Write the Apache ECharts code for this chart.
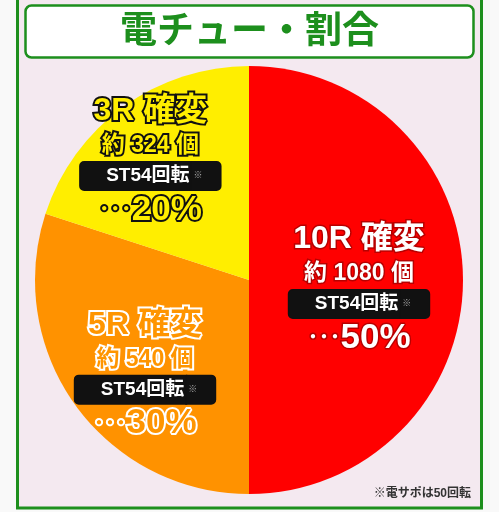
<!DOCTYPE html>
<html>
<head>
<meta charset="utf-8">
<script src="https://cdn.jsdelivr.net/npm/echarts@6/dist/echarts.min.js"></script>
<style>
    html, body { margin: 0; padding: 0; background: #f9f9f9; }
    #main { width: 499px; height: 512px; }
</style>
</head>
<body>
<div id="main"></div>
<script>
    // データ
    const categories = ['10R 確変', '5R 確変', '3R 確変'];
    const counts = ['約 1080 個', '約 540 個', '約 324 個'];
    const shares = [50, 30, 20];
    const stText = 'ST54回転';
    const titleText = '電チュー・割合';
    const footText = '※電サポは50回転';

    const FONT = '"Liberation Sans", "Noto Sans CJK JP", sans-serif';
    const green = '#1d8f1d';

    // スライスごとの色と文字の装飾
    const sliceStyle = [
        { color: '#ff0000', fill: '#ffffff', stroke: '#b80000', width: 3, offset: [0, 10] },
        { color: '#ff9200', fill: '#ff9500', stroke: '#ffffff', width: 4, offset: [-15, 31] },
        { color: '#ffee00', fill: '#ffee00', stroke: '#111111', width: 4, offset: [-34, -29] }
    ];

    function richFor(s) {
        const base = {
            fontFamily: FONT, fontWeight: 'bold', color: s.fill,
            textBorderColor: s.stroke, textBorderWidth: s.width
        };
        return {
            t: Object.assign({}, base, { fontSize: 32, lineHeight: 35 }),
            c: Object.assign({}, base, { fontSize: 23, lineHeight: 33 }),
            ba: {
                fontFamily: FONT, fontWeight: 'bold', fontSize: 19, color: '#fff',
                backgroundColor: '#111', borderColor: '#111', borderWidth: 1,
                height: 20, padding: [4, 2, 4, 26],
                borderRadius: [4, 0, 0, 4]
            },
            bb: {
                fontFamily: FONT, fontSize: 9, color: '#aaa',
                backgroundColor: '#111', borderColor: '#111', borderWidth: 1,
                height: 20, padding: [4, 18, 4, 2],
                borderRadius: [0, 4, 4, 0]
            },
            d: Object.assign({}, base, { fontSize: 22, lineHeight: 40 }),
            p: Object.assign({}, base, { fontSize: 35, lineHeight: 40 })
        };
    }

    const pieData = categories.map(function (name, i) {
        const s = sliceStyle[i];
        return {
            name: name,
            value: shares[i],
            itemStyle: { color: s.color },
            label: { rich: richFor(s), offset: s.offset }
        };
    });

    let myChart = echarts.init(document.getElementById('main'));
    myChart.setOption({
        backgroundColor: '#f9f9f9',
        animation: false,
        title: {
            text: titleText,
            left: 'center',
            top: 9,
            textStyle: { fontFamily: FONT, fontSize: 37, fontWeight: 'bold', color: green }
        },
        graphic: [
            {
                type: 'rect', z: -10,
                shape: { x: 17.5, y: -5, width: 464, height: 513 },
                style: { fill: '#f4e9f0', stroke: green, lineWidth: 3 }
            },
            {
                type: 'rect', z: -9,
                shape: { x: 25.5, y: 5.5, width: 448, height: 52, r: 6 },
                style: { fill: '#ffffff', stroke: green, lineWidth: 2.5 }
            },
            {
                type: 'text', right: 28, top: 488, z: 10,
                style: { text: footText, fontFamily: FONT, fontSize: 12, fontWeight: 'bold', fill: '#333' }
            }
        ],
        series: [
            {
                type: 'pie',
                center: [249, 280],
                radius: [0, 214],
                startAngle: 90,
                clockwise: true,
                avoidLabelOverlap: false,
                labelLine: { show: false },
                label: {
                    show: true,
                    position: 'inside',
                    formatter: function (p) {
                        return '{t|' + p.name + '}\n{c|' + counts[p.dataIndex] + '}\n{ba|' + stText +
                            '}{bb|※}\n{d|･･･}{p|' + p.value + '%}';
                    }
                },
                data: pieData
            }
        ]
    });
</script>
</body>
</html>
